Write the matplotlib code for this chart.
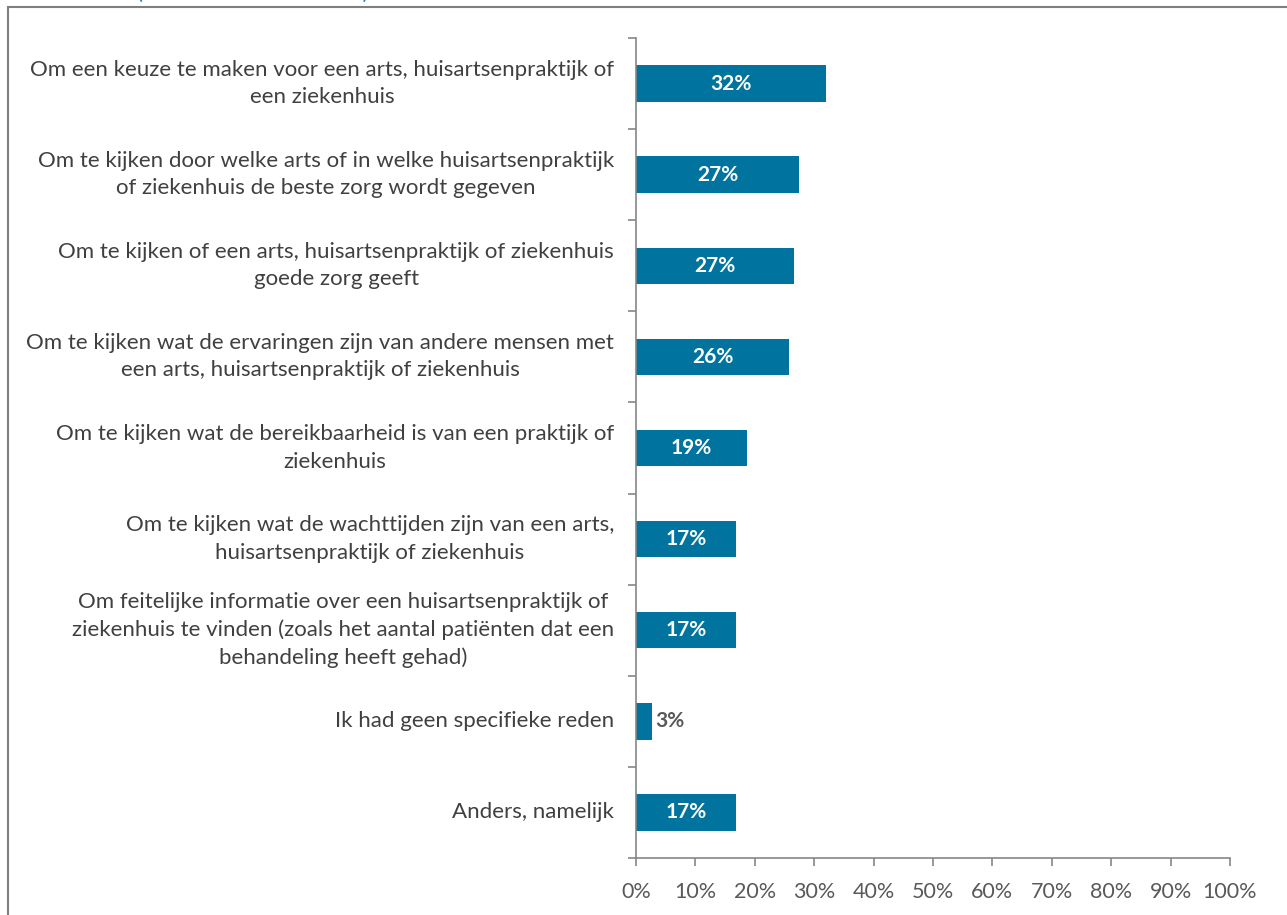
import matplotlib.pyplot as plt
from matplotlib.patches import Rectangle
import numpy as np

labels = [
    "Om een keuze te maken voor een arts, huisartsenpraktijk of\neen ziekenhuis",
    "Om te kijken door welke arts of in welke huisartsenpraktijk\nof ziekenhuis de beste zorg wordt gegeven",
    "Om te kijken of een arts, huisartsenpraktijk of ziekenhuis\ngoede zorg geeft",
    "Om te kijken wat de ervaringen zijn van andere mensen met\neen arts, huisartsenpraktijk of ziekenhuis",
    "Om te kijken wat de bereikbaarheid is van een praktijk of\nziekenhuis",
    "Om te kijken wat de wachttijden zijn van een arts,\nhuisartsenpraktijk of ziekenhuis",
    "Om feitelijke informatie over een huisartsenpraktijk of\nziekenhuis te vinden (zoals het aantal patiënten dat een\nbehandeling heeft gehad)",
    "Ik had geen specifieke reden",
    "Anders, namelijk",
]
values = [32.0, 27.4, 26.6, 25.8, 18.6, 16.8, 16.8, 2.7, 16.8]
value_labels = ["32%", "27%", "27%", "26%", "19%", "17%", "17%", "3%", "17%"]
xticks = [0, 10, 20, 30, 40, 50, 60, 70, 80, 90, 100]

BAR = "#00739f"
GREY = "#868686"
TEXT = "#404040"

plt.rcParams["font.family"] = ["Lato", "DejaVu Sans"]

fig = plt.figure(figsize=(12.87, 9.15), dpi=100)
ax = fig.add_axes([0.4942, 0.0623, 0.4615, 0.8962])

n = len(labels)
y = np.arange(n)
ax.barh(y, values, height=0.4, color=BAR)
ax.set_ylim(n - 0.5, -0.5)
ax.set_xlim(0, 100)

for yi, v, lab in zip(y, values, value_labels):
    if v > 8:
        ax.text(v / 2, yi, lab, ha="center", va="center", color="white",
                fontsize=15, fontweight="bold")
    else:
        ax.text(v + 0.5, yi, lab, ha="left", va="center", color="#595959",
                fontsize=15, fontweight="bold")

# category labels, centre-aligned lines, right edge near the axis
for yi, lab in zip(y, labels):
    ax.text(-3.7, yi, lab, ha="right", va="center", multialignment="center",
            color=TEXT, fontsize=16, linespacing=1.45)

ax.set_yticks(np.arange(-0.5, n, 1))
ax.set_yticklabels([])
ax.set_xticks(xticks)
ax.set_xticklabels([f"{t}%" for t in xticks], color="#595959", fontsize=15.5)

for s in ["top", "right"]:
    ax.spines[s].set_visible(False)
for s in ["left", "bottom"]:
    ax.spines[s].set_color(GREY)
    ax.spines[s].set_linewidth(1.2)
ax.tick_params(axis="both", direction="out", length=6, color=GREY, width=1.2)
ax.tick_params(axis="x", pad=11)

# outer frame
fig.patches.append(Rectangle((8 / 1287, -0.01), 1.0, 1 - 7 / 915 + 0.01,
                             transform=fig.transFigure, fill=False,
                             edgecolor="#7f7f7f", linewidth=1.5))

# title cut off at the top edge, as in the source
fig.text(137 / 1287, 1.0 + 0.008, "(meerdere antwoorden) n=113",
         color="#1a7fc1", fontsize=16, ha="left", va="center")

fig.savefig("out.png", dpi=100)
